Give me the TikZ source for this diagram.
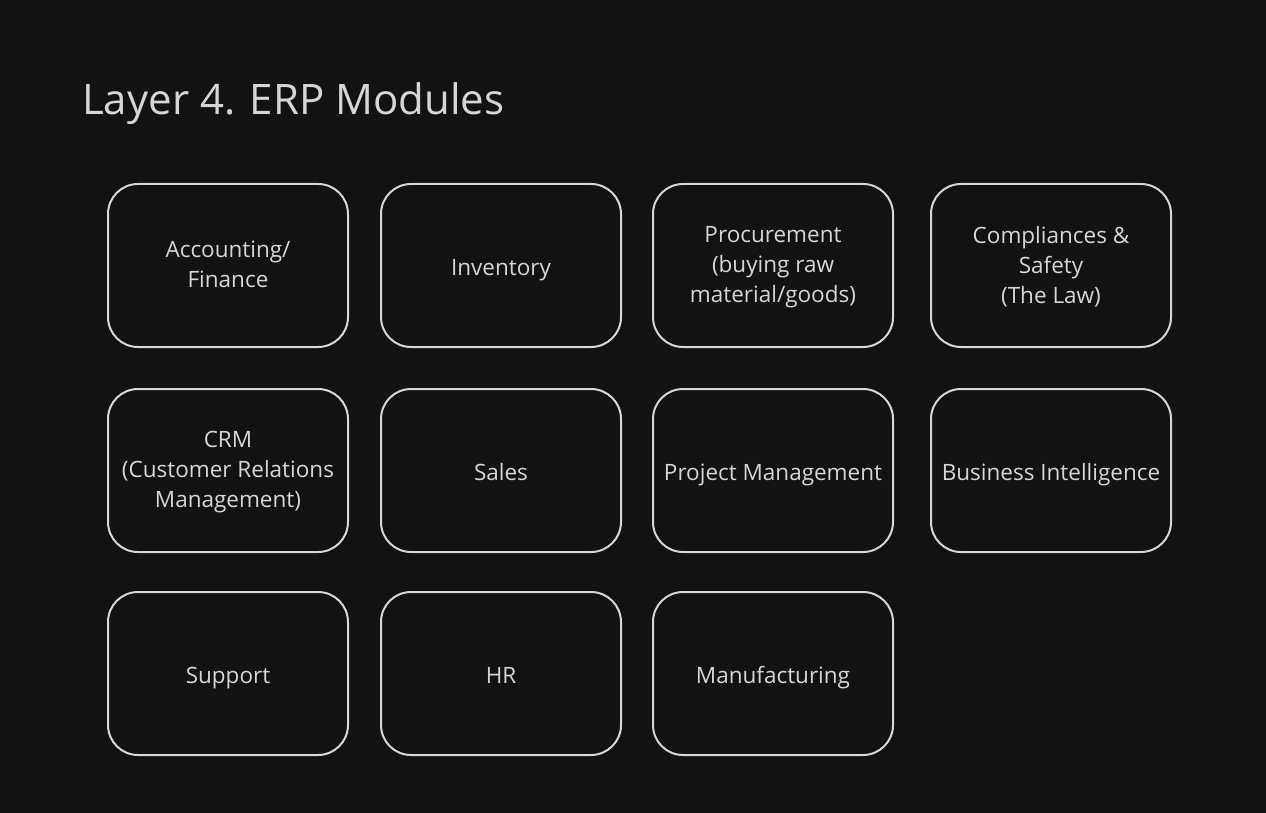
\documentclass[tikz,border=0pt]{standalone}
\usepackage{fontspec}
\setmainfont{Open Sans}
\definecolor{bg}{HTML}{121212}
\definecolor{fg}{HTML}{D6D6D6}
\newcommand{\modbox}[4]{%
  \node[modframe] (#1) at (#2,#3) {};
  \node[modtext, yshift=-3.5pt] (#1-t) at (#1.center) {#4};
}
\begin{document}
\begin{tikzpicture}[x=1pt,y=-1pt,
  modframe/.style={draw=fg, line width=2pt, rounded corners=30pt, minimum width=240pt, minimum height=163pt, inner sep=0pt},
  modtext/.style={text=fg, align=center, font=\fontsize{22.5}{30}\selectfont, inner sep=0pt,
    execute at begin node=\strut, execute at end node=\strut},
  title/.style={text=fg, anchor=base west, font=\fontsize{42}{48}\selectfont, inner sep=0pt}]
\fill[bg] (0,0) rectangle (1266,813);
\useasboundingbox (0,0) rectangle (1266,813);
\node[title] (t) at (82,115) {Layer 4. ERP Modules};
\modbox{acc}{228}{265.5}{Accounting/\\Finance}
\modbox{inv}{501}{265.5}{Inventory}
\modbox{proc}{773}{265.5}{Procurement\\(buying raw\\material/goods)}
\modbox{comp}{1051}{265.5}{Compliances \&\\Safety\\(The Law)}
\modbox{crm}{228}{470.5}{CRM\\(Customer Relations\\Management)}
\modbox{sales}{501}{470.5}{Sales}
\modbox{pm}{773}{470.5}{Project Management}
\modbox{bi}{1051}{470.5}{Business Intelligence}
\modbox{sup}{228}{673.5}{Support}
\modbox{hr}{501}{673.5}{HR}
\modbox{man}{773}{673.5}{Manufacturing}
\end{tikzpicture}
\end{document}
